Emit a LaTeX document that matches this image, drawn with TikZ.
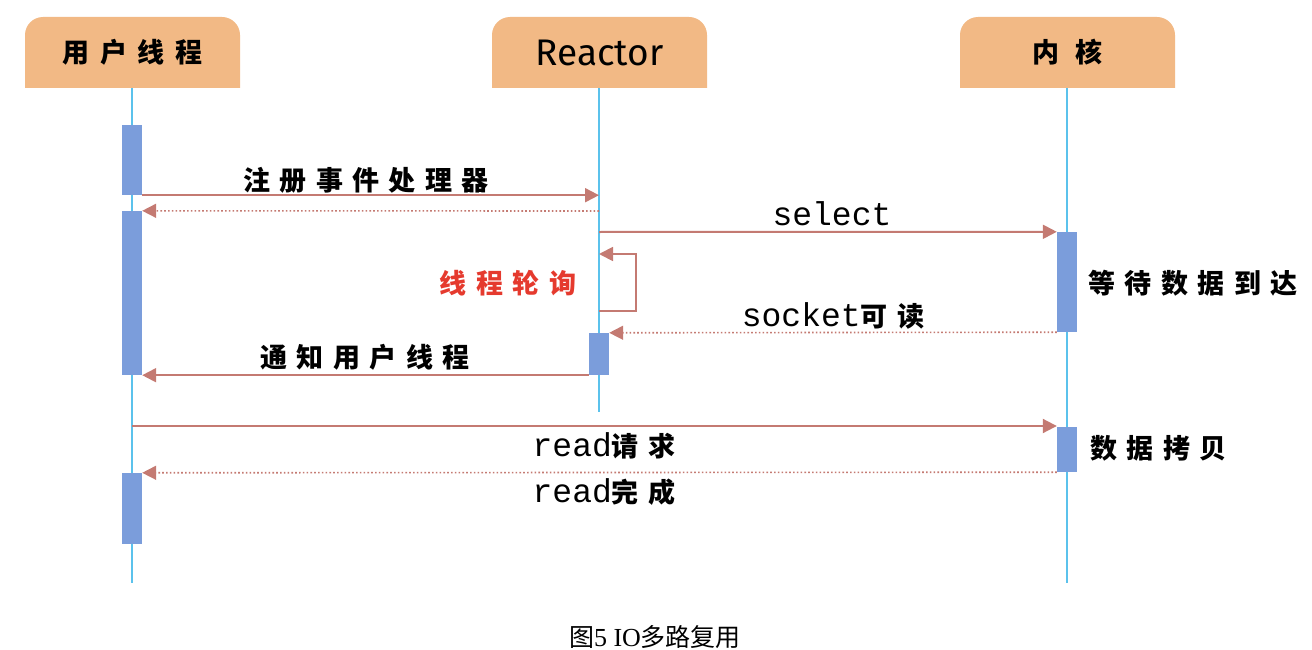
\documentclass[tikz,border=0pt]{standalone}
\usepackage{fontspec}
\setmainfont{Liberation Serif}
\newfontfamily\cjk{Noto Sans CJK SC}[LetterSpace=35]
\newfontfamily\cjkhd{Noto Sans CJK SC}[LetterSpace=40]
\newfontfamily\cjkhdw{Noto Sans CJK SC}[LetterSpace=60]
\newfontfamily\cjkplain{Noto Sans CJK SC}
\newfontfamily\mono{Liberation Mono}
\newfontfamily\rfont{Fira Sans}
\usetikzlibrary{arrows.meta}
\definecolor{hdrc}{HTML}{F2B985}
\definecolor{lifec}{HTML}{5BC2EC}
\definecolor{actc}{HTML}{7B9DDB}
\definecolor{arrc}{HTML}{C47A72}
\definecolor{redl}{HTML}{E53A2E}
\tikzset{
  lifeline/.style={draw=lifec, line width=1.6pt},
  actbar/.style={fill=actc, minimum width=20pt, inner sep=0pt, draw=none},
  hdrtext/.style={minimum width=215pt, minimum height=71pt, inner sep=0pt},
  msg/.style={draw=arrc, line width=2pt, -{Triangle[length=14pt,width=14pt]}},
  retmsg/.style={msg, dash pattern=on 1.6pt off 2.2pt, line width=1.6pt},
  cjklbl/.style={font=\cjk\bfseries\fontsize{27}{27}\selectfont, inner sep=0pt},
  monolbl/.style={font=\mono\fontsize{33}{33}\selectfont, inner sep=0pt},
}
\newcommand{\hdrshape}[2]{%
  \fill[hdrc] (#1,-88) -- (#1,-35) arc[start angle=180,end angle=90,radius=18]
    -- (#2-18,-17) arc[start angle=90,end angle=0,radius=18] -- (#2,-88) -- cycle;}
\begin{document}
\begin{tikzpicture}[x=1pt,y=1pt]
\useasboundingbox (0,0) rectangle (1312,-650);
% headers
\hdrshape{25}{240}
\hdrshape{492}{707}
\hdrshape{960}{1175}
\node[hdrtext, font=\cjkhd\bfseries\fontsize{27}{27}\selectfont] (hu) at (132.5,-52.5) {用户线程};
\node[hdrtext, font=\rfont\fontsize{37}{37}\selectfont] (hr) at (599.5,-52.5) {Reactor};
\node[hdrtext, font=\cjkhdw\bfseries\fontsize{27}{27}\selectfont] (hk) at (1067.5,-52.5) {内核};
% lifelines
\coordinate (uend) at (132,-583);
\coordinate (rend) at (599,-412);
\coordinate (kend) at (1067,-583);
\draw[lifeline] (hu.south -| uend) -- (uend);
\draw[lifeline] (hr.south -| rend) -- (rend);
\draw[lifeline] (hk.south -| kend) -- (kend);
% activation bars
\node[actbar, minimum height=70pt] (u1) at (132,-160) {};
\node[actbar, minimum height=164pt] (u2) at (132,-293) {};
\node[actbar, minimum height=71pt] (u3) at (132,-508.5) {};
\node[actbar, minimum height=42pt] (r1) at (599,-354) {};
\node[actbar, minimum height=100pt] (k1) at (1067,-282) {};
\node[actbar, minimum height=45pt] (k2) at (1067,-449.5) {};
% messages
\draw[msg] (u1.south east) -- (u1.south east -| rend);
\coordinate (r211) at (599,-211);
\draw[retmsg] (r211) -- (u2.north east);
\coordinate (r232) at (599,-232);
\draw[msg] (r232) -- (k1.north west);
\coordinate (lpA) at (599,-311);
\coordinate (lpB) at (636,-254);
\coordinate (lpC) at (599,-254);
\draw[msg, line width=1.8pt] (lpA) -| (lpB) -- (lpC);
\draw[retmsg] (k1.south west) -- (r1.north east);
\draw[msg] (r1.south west) -- (r1.south west -| u2.east);
\coordinate (u426) at (132,-426);
\draw[msg] (u426) -- (u426 -| k2.west);
\draw[retmsg] (k2.south west) -- (u3.north east);
% labels
\node[cjklbl] (l1) at (366,-180) {注册事件处理器};
\node[monolbl] (l2) at (832,-214) {select};
\node[cjklbl, text=redl] (l3) at (508,-283) {线程轮询};
\node[inner sep=0pt] (l4) at (833,-316) {\mono\fontsize{33}{33}\selectfont socket\cjk\bfseries\fontsize{27}{27}\selectfont 可读};
\node[cjklbl] (l5) at (365,-357) {通知用户线程};
\node[cjklbl, anchor=west] (l6) at (1088,-283) {等待数据到达};
\node[cjklbl, anchor=west] (l7) at (1090,-448) {数据拷贝};
\node[inner sep=0pt] (l8) at (604,-446) {\mono\fontsize{33}{33}\selectfont read\cjk\bfseries\fontsize{27}{27}\selectfont 请求};
\node[inner sep=0pt] (l9) at (604,-492) {\mono\fontsize{33}{33}\selectfont read\cjk\bfseries\fontsize{27}{27}\selectfont 完成};
\node[inner sep=0pt] (cap) at (655,-637) {\cjkplain\fontsize{25}{25}\selectfont 图\rmfamily\fontsize{26}{26}\selectfont 5 IO\cjkplain\fontsize{25}{25}\selectfont 多路复用};
\end{tikzpicture}
\end{document}
